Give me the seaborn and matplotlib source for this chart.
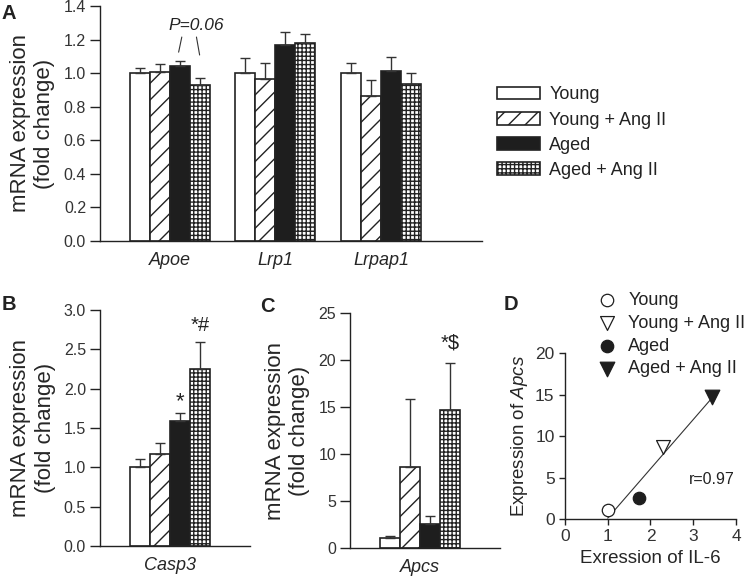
import matplotlib
matplotlib.use('Agg')
import matplotlib.pyplot as plt
import numpy as np
import pandas as pd
import seaborn as sns
from matplotlib.patches import Patch

# Groups and styles
groups = ['Young', 'Young + Ang II', 'Aged', 'Aged + Ang II']

# Panel A: Apoe, Lrp1, Lrpap1 (mean and SEM per group)
genes_a = ['Apoe', 'Lrp1', 'Lrpap1']
young_a = [1.00, 1.00, 1.00]
young_ang_a = [1.005, 0.963, 0.865]
aged_a = [1.04, 1.17, 1.01]
aged_ang_a = [0.93, 1.18, 0.933]
young_a_sem = [0.03, 0.088, 0.058]
young_ang_a_sem = [0.047, 0.095, 0.093]
aged_a_sem = [0.03, 0.073, 0.087]
aged_ang_a_sem = [0.04, 0.055, 0.07]

# Panel B: Casp3
genes_b = ['Casp3']
mean_b = [1.0, 1.165, 1.59, 2.25]
sem_b = [0.10, 0.14, 0.095, 0.34]

# Panel C: Apcs
genes_c = ['Apcs']
mean_c = [1.03, 8.65, 2.52, 14.65]
sem_c = [0.28, 7.15, 0.92, 5.03]

# Panel D: correlation IL-6 vs Apcs
il6_d = [1.0, 2.3, 1.72, 3.43]
apcs_d = [1.03, 8.65, 2.52, 14.65]

# Styling
face_colors = ['white', 'white', '#1e1e1e', 'white']
hatches = ['', '//', '', '++++']

sns.set_style('ticks')
plt.rcParams['font.family'] = ['Liberation Sans', 'DejaVu Sans']
plt.rcParams['mathtext.fontset'] = 'custom'
plt.rcParams['mathtext.rm'] = 'Liberation Sans'
plt.rcParams['mathtext.it'] = 'Liberation Sans:italic'
plt.rcParams['hatch.linewidth'] = 1.0
plt.rcParams['hatch.color'] = 'black'
plt.rcParams['axes.edgecolor'] = '#222222'
plt.rcParams['axes.linewidth'] = 1.0
plt.rcParams['text.color'] = '#222222'

TICK = 11.5
LABEL = 16
TEXT = 13
TICK_COLOR = '#333333'


def long_frame(cats, series):
    rows = []
    for g, vals in zip(groups, series):
        for c, v in zip(cats, vals):
            rows.append({'gene': c, 'group': g, 'value': v})
    return pd.DataFrame(rows)


def bar_panel(ax, cats, means, sems, width):
    df = long_frame(cats, means)
    sns.barplot(data=df, x='gene', y='value', hue='group', hue_order=groups,
                palette=face_colors, saturation=1, width=width, errorbar=None,
                edgecolor='#222222', linewidth=1.2, legend=False, ax=ax)
    centers = {}
    bar_conts = list(ax.containers)
    for i, cont in enumerate(bar_conts):
        xs = []
        for bar, s in zip(cont, sems[i]):
            bar.set_hatch(hatches[i])
            x = bar.get_x() + bar.get_width() / 2
            xs.append(x)
            ax.errorbar(x, bar.get_height(), yerr=[[0], [s]], fmt='none',
                        ecolor='#333333', elinewidth=1.0, capsize=3.6,
                        capthick=1.0, zorder=1)
        centers[groups[i]] = xs
    ax.set_xlabel('')
    ax.set_ylabel('mRNA expression\n(fold change)', fontsize=LABEL, labelpad=6)
    ax.tick_params(axis='x', length=0, labelsize=TEXT, pad=8)
    ax.tick_params(axis='y', labelsize=TICK, length=7, width=1, pad=3,
                   color='#222222', labelcolor=TICK_COLOR)
    for lab in ax.get_xticklabels():
        lab.set_fontstyle('italic')
    sns.despine(ax=ax)
    return centers


fig = plt.figure(figsize=(7.5, 5.76), dpi=100)

# ---- Panel A
ax_a = fig.add_axes([0.1333, 0.5816, 0.510, 0.408])
sems_a = [young_a_sem, young_ang_a_sem, aged_a_sem, aged_ang_a_sem]
cen = bar_panel(ax_a, genes_a, [young_a, young_ang_a, aged_a, aged_ang_a], sems_a, 0.755)
ax_a.set_ylim(0, 1.4)
ax_a.set_yticks(np.arange(0, 1.41, 0.2))
ax_a.set_yticklabels([f'{v:.1f}' for v in np.arange(0, 1.41, 0.2)])
ax_a.set_xlim(-0.66, 2.96)
xa, xb = cen['Aged'][0], cen['Aged + Ang II'][0]
ax_a.text(xb - 0.03, 1.285, 'P=0.06', fontsize=TEXT - 0.5, style='italic',
          ha='center', va='center')
ax_a.plot([xa + 0.02, xa - 0.01], [1.215, 1.125], color='#333333', lw=0.8)
ax_a.plot([xb - 0.03, xb], [1.215, 1.108], color='#333333', lw=0.8)

# ---- Panel B
ax_b = fig.add_axes([0.1333, 0.052, 0.2, 0.41])
cen = bar_panel(ax_b, genes_b, [[v] for v in mean_b], [[s] for s in sem_b], 0.8)
ax_b.set_ylim(0, 3.0)
ax_b.set_yticks(np.arange(0, 3.01, 0.5))
ax_b.set_yticklabels([f'{v:.1f}' for v in np.arange(0, 3.01, 0.5)])
ax_b.set_xlim(-0.7, 0.8)
ax_b.text(cen['Aged'][0], 1.84, '*', fontsize=TEXT + 3, ha='center', va='center')
ax_b.text(cen['Aged + Ang II'][0], 2.80, '*#', fontsize=TEXT + 1.5, ha='center', va='center')

# ---- Panel C
ax_c = fig.add_axes([0.4667, 0.0486, 0.2, 0.408])
cen = bar_panel(ax_c, genes_c, [[v] for v in mean_c], [[s] for s in sem_c], 0.8)
ax_c.set_ylim(0, 25)
ax_c.set_yticks(np.arange(0, 26, 5))
ax_c.set_xlim(-0.7, 0.8)
ax_c.text(cen['Aged + Ang II'][0], 21.8, '*$', fontsize=TEXT + 1.5, ha='center', va='center')

# ---- Panel D
ax_d = fig.add_axes([0.7533, 0.099, 0.228, 0.288])
sns.regplot(x=il6_d, y=apcs_d, ci=None, scatter=False, truncate=True,
            line_kws=dict(color='#333333', lw=0.8), ax=ax_d)
d_markers = ['o', 'v', 'o', 'v']
d_faces = ['white', 'white', '#1e1e1e', '#1e1e1e']
d_sizes = [80, 100, 80, 110]
for g, xv, yv, m, fc, s in zip(groups, il6_d, apcs_d, d_markers, d_faces, d_sizes):
    sns.scatterplot(x=[xv], y=[yv], marker=m, s=s, color=fc, edgecolor='#1e1e1e',
                    linewidth=0.9, label=g, zorder=3, ax=ax_d)
ax_d.set_xlim(0, 4)
ax_d.set_ylim(0, 20)
ax_d.set_xticks(range(0, 5))
ax_d.set_yticks(range(0, 21, 5))
ax_d.tick_params(labelsize=TICK + 1, length=4, width=1, color='#222222',
                 labelcolor=TICK_COLOR)
ax_d.set_xlabel('Exression of IL-6', fontsize=TEXT + 0.5)
ax_d.set_ylabel('Expression of $\\it{Apcs}$', fontsize=TEXT + 0.5)
ax_d.text(3.97, 4.7, 'r=0.97', fontsize=TICK, ha='right', va='center')
sns.despine(ax=ax_d)
h, l = ax_d.get_legend_handles_labels()
ax_d.legend_.remove()
fig.legend(h, l, loc='upper left', bbox_to_anchor=(0.797, 0.493), frameon=False,
           fontsize=TEXT, handlelength=1.0, handletextpad=0.7, labelspacing=0.32,
           borderpad=0, borderaxespad=0)

# ---- Legend for bar panels
bar_handles = [Patch(facecolor=fc, edgecolor='#222222', hatch=ht, linewidth=1.2)
               for fc, ht in zip(face_colors, hatches)]
fig.legend(bar_handles, groups, loc='upper left', bbox_to_anchor=(0.6627, 0.85),
           frameon=False, fontsize=TEXT, handlelength=2.4, handleheight=0.7,
           handletextpad=0.5, labelspacing=0.45, borderpad=0, borderaxespad=0)

# ---- Panel letters
for lab, x, y in [('A', 0.002, 0.993), ('B', 0.002, 0.487), ('C', 0.347, 0.484), ('D', 0.672, 0.487)]:
    fig.text(x, y, lab, fontsize=14.5, fontweight='bold', va='top', ha='left')

fig.savefig('out.png', dpi=100)
